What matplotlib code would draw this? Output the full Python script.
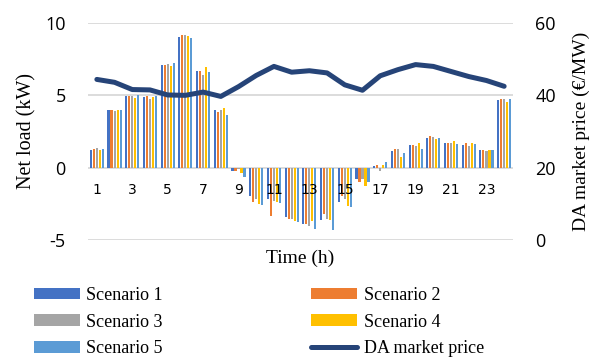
import numpy as np
import matplotlib
matplotlib.use("Agg")
import matplotlib.pyplot as plt

plt.rcParams["axes.unicode_minus"] = False

hours = np.arange(1, 25)
tick_hours = [1, 3, 5, 7, 9, 11, 13, 15, 17, 19, 21, 23]

scenario_1 = [1.25, 4.0, 4.92, 4.87, 7.1, 9.06, 6.67, 3.98, -0.2, -1.93, -2.16, -3.43,
              -3.89, -3.65, -2.34, -0.78, 0.14, 1.15, 1.55, 2.08, 1.72, 1.58, 1.19, 4.66]
scenario_2 = [1.31, 4.0, 4.97, 4.92, 7.1, 9.2, 6.67, 3.86, -0.2, -2.4, -3.36, -3.54,
              -3.89, -3.2, -1.93, -0.97, 0.18, 1.27, 1.55, 2.17, 1.72, 1.72, 1.21, 4.72]
scenario_3 = [1.38, 3.95, 4.97, 4.76, 7.15, 9.15, 6.43, 4.0, -0.1, -2.16, -2.28, -3.54,
              -4.0, -3.55, -2.16, -0.78, -0.25, 1.27, 1.48, 2.12, 1.72, 1.53, 1.13, 4.72]
scenario_4 = [1.24, 4.0, 4.85, 4.87, 7.05, 9.1, 6.94, 4.14, -0.4, -2.5, -2.4, -3.66,
              -3.66, -3.6, -2.62, -1.29, 0.18, 0.77, 1.69, 1.97, 1.81, 1.69, 1.19, 4.54]
scenario_5 = [1.29, 4.0, 5.01, 4.97, 7.22, 8.97, 6.62, 3.66, -0.65, -2.55, -2.46, -3.77,
              -4.23, -4.3, -2.74, -1.01, 0.41, 1.0, 1.32, 2.03, 1.67, 1.65, 1.21, 4.72]
da_price = [44.4, 43.6, 41.6, 41.5, 40.1, 40.0, 40.9, 39.7, 42.4, 45.5, 48.0, 46.4,
            46.8, 46.2, 42.9, 41.4, 45.4, 47.1, 48.5, 48.0, 46.6, 45.2, 44.1, 42.5]

scenarios = [scenario_1, scenario_2, scenario_3, scenario_4, scenario_5]
names = ["Scenario 1", "Scenario 2", "Scenario 3", "Scenario 4", "Scenario 5"]
colors = ["#4472C4", "#ED7D31", "#A5A5A5", "#FFC000", "#5B9BD5"]
line_color = "#264478"
grid_color = "#D9D9D9"

serif = "Liberation Serif"
sans = "Open Sans"

fig = plt.figure(figsize=(5.92, 3.58), dpi=100)
ax = fig.add_axes([88 / 592, 1 - 240 / 358, (513 - 88) / 592, (240 - 23) / 358])

# gridlines drawn by hand so tick labels can sit on top of the bars
for yv in [-5, 0, 5, 10]:
    ax.axhline(yv, color=grid_color, lw=1.3, zorder=0)

slot = 0.17
bars = []
for i, (vals, name, c) in enumerate(zip(scenarios, names, colors)):
    b = ax.bar(hours + (i - 2) * slot, vals, width=0.12, color=c, label=name, zorder=1)
    bars.append(b)

ax.set_xlim(0.5, 24.5)
ax.set_ylim(-5, 10)
ax.set_yticks([-5, 0, 5, 10])
ax.set_xticks(tick_hours)
ax.set_xticklabels([str(h) for h in tick_hours], fontfamily=serif, fontsize=14)
for lab in ax.get_yticklabels():
    lab.set_fontfamily(sans)
    lab.set_fontsize(13)
for s in ["top", "left", "right", "bottom"]:
    ax.spines[s].set_visible(False)
ax.spines["bottom"].set_position(("data", 0))
ax.tick_params(axis="x", length=0, pad=11)
ax.tick_params(axis="y", length=0, pad=16)
ax.set_ylabel("Net load (kW)", fontfamily=serif, fontsize=14.5, labelpad=6)
fig.text(300 / 592, 1 - 258 / 358, "Time (h)", fontfamily=serif, fontsize=14,
         ha="center", va="center")

ax2 = ax.twinx()
ln, = ax2.plot(hours, da_price, color=line_color, lw=3.6, solid_capstyle="round",
               solid_joinstyle="round", label="DA market price", zorder=3)
ax2.set_ylim(0, 60)
ax2.set_yticks([0, 20, 40, 60])
for lab in ax2.get_yticklabels():
    lab.set_fontfamily(sans)
    lab.set_fontsize(13)
ax2.tick_params(axis="y", length=0, pad=16)
for s in ax2.spines.values():
    s.set_visible(False)
ax2.set_ylabel("DA market price (€/MW)", fontfamily=serif, fontsize=14, labelpad=12)

# legend in Excel order (row-major), matplotlib fills columns first
handles = [bars[0], bars[2], bars[4], bars[1], bars[3], ln]
labels = [names[0], names[2], names[4], names[1], names[3], "DA market price"]
fig.legend(handles, labels, loc="upper left", bbox_to_anchor=(34 / 592, 1 - 287 / 358),
           ncol=2, frameon=False, prop={"family": serif, "size": 13},
           handlelength=2.55, handleheight=0.6, handletextpad=0.35,
           labelspacing=0.53, columnspacing=8.22, borderpad=0, borderaxespad=0)

fig.savefig("out.png", dpi=100)
